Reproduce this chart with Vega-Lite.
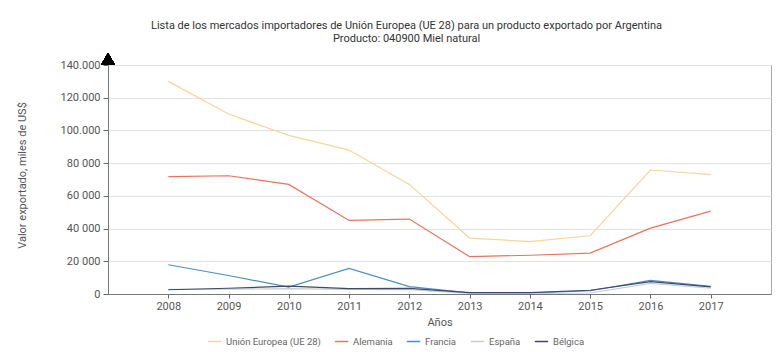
{
  "$schema": "https://vega.github.io/schema/vega-lite/v6.json",
  "width": 663,
  "height": 229,
  "autosize": {"type": "none"},
  "padding": {"left": 108, "top": 65, "right": 5, "bottom": 58},
  "background": "white",
  "title": {
    "text": ["Lista de los mercados importadores de Unión Europea (UE 28) para un producto exportado por Argentina", "Producto: 040900 Miel natural"],
    "anchor": "middle",
    "dx": -33,
    "fontSize": 11,
    "fontWeight": "normal",
    "font": "Roboto",
    "color": "#333",
    "lineHeight": 13,
    "offset": 9
  },
  "config": {
    "font": "Roboto",
    "view": {"stroke": "#aaa", "strokeWidth": 1},
    "axis": {"labelColor": "#555", "labelFontSize": 11, "titleColor": "#555", "titleFontSize": 11, "titleFontWeight": "normal", "domainColor": "#777", "tickColor": "#666", "gridColor": "#e2e2e2"}
  },
  "data": {
    "values": [
      {"year": 2008, "country": "Unión Europea (UE 28)", "value": 130000},
      {"year": 2009, "country": "Unión Europea (UE 28)", "value": 110000},
      {"year": 2010, "country": "Unión Europea (UE 28)", "value": 97000},
      {"year": 2011, "country": "Unión Europea (UE 28)", "value": 88000},
      {"year": 2012, "country": "Unión Europea (UE 28)", "value": 67000},
      {"year": 2013, "country": "Unión Europea (UE 28)", "value": 34200},
      {"year": 2014, "country": "Unión Europea (UE 28)", "value": 32000},
      {"year": 2015, "country": "Unión Europea (UE 28)", "value": 35600},
      {"year": 2016, "country": "Unión Europea (UE 28)", "value": 75800},
      {"year": 2017, "country": "Unión Europea (UE 28)", "value": 73000},
      {"year": 2008, "country": "Alemania", "value": 71700},
      {"year": 2009, "country": "Alemania", "value": 72300},
      {"year": 2010, "country": "Alemania", "value": 67000},
      {"year": 2011, "country": "Alemania", "value": 45000},
      {"year": 2012, "country": "Alemania", "value": 45800},
      {"year": 2013, "country": "Alemania", "value": 22800},
      {"year": 2014, "country": "Alemania", "value": 23700},
      {"year": 2015, "country": "Alemania", "value": 25000},
      {"year": 2016, "country": "Alemania", "value": 40300},
      {"year": 2017, "country": "Alemania", "value": 50700},
      {"year": 2008, "country": "Francia", "value": 17900},
      {"year": 2009, "country": "Francia", "value": 11300},
      {"year": 2010, "country": "Francia", "value": 4200},
      {"year": 2011, "country": "Francia", "value": 15700},
      {"year": 2012, "country": "Francia", "value": 4500},
      {"year": 2013, "country": "Francia", "value": 700},
      {"year": 2014, "country": "Francia", "value": 600},
      {"year": 2015, "country": "Francia", "value": 2000},
      {"year": 2016, "country": "Francia", "value": 8300},
      {"year": 2017, "country": "Francia", "value": 4700},
      {"year": 2008, "country": "España", "value": 2800},
      {"year": 2009, "country": "España", "value": 2900},
      {"year": 2010, "country": "España", "value": 3300},
      {"year": 2011, "country": "España", "value": 2800},
      {"year": 2012, "country": "España", "value": 2600},
      {"year": 2013, "country": "España", "value": 400},
      {"year": 2014, "country": "España", "value": 300},
      {"year": 2015, "country": "España", "value": 600},
      {"year": 2016, "country": "España", "value": 6500},
      {"year": 2017, "country": "España", "value": 3500},
      {"year": 2008, "country": "Bélgica", "value": 2600},
      {"year": 2009, "country": "Bélgica", "value": 3500},
      {"year": 2010, "country": "Bélgica", "value": 4800},
      {"year": 2011, "country": "Bélgica", "value": 3300},
      {"year": 2012, "country": "Bélgica", "value": 3400},
      {"year": 2013, "country": "Bélgica", "value": 900},
      {"year": 2014, "country": "Bélgica", "value": 900},
      {"year": 2015, "country": "Bélgica", "value": 2300},
      {"year": 2016, "country": "Bélgica", "value": 7600},
      {"year": 2017, "country": "Bélgica", "value": 4400}
    ]
  },
  "layer": [
    {
      "mark": {"type": "line", "strokeWidth": 1.2},
      "encoding": {
        "x": {
          "field": "year", "type": "quantitative",
          "scale": {"domain": [2007, 2018], "nice": false, "zero": false},
          "axis": {"values": [2008, 2009, 2010, 2011, 2012, 2013, 2014, 2015, 2016, 2017], "format": "d", "grid": false, "title": "Años", "tickSize": 4, "labelPadding": 2, "titleY": 28, "titleBaseline": "middle"}
        },
        "y": {
          "field": "value", "type": "quantitative",
          "scale": {"domain": [0, 140000], "nice": false},
          "axis": {"tickCount": 7, "labelOverlap": false, "labelExpr": "datum.value >= 100000 ? replace(format(datum.value, ','), ',', '.') : replace(format(datum.value, ','), ',', ' ')", "title": "Valor exportado, miles de US$", "tickSize": 5, "labelPadding": 3, "titleX": -86, "titleY": 110, "titleAngle": -90, "titleAlign": "center", "titleBaseline": "middle"}
        },
        "color": {
          "field": "country", "type": "nominal",
          "scale": {"domain": ["Unión Europea (UE 28)", "Alemania", "Francia", "España", "Bélgica"], "range": ["#f9d49c", "#e8745c", "#4d8fc2", "#cccccc", "#3b4a6e"]},
          "legend": {"title": null, "orient": "none", "direction": "horizontal", "legendX": 99, "legendY": 269, "symbolType": "stroke", "symbolSize": 180, "symbolStrokeWidth": 1.5, "labelFontSize": 9.5, "labelColor": "#666", "labelOffset": 4, "columnPadding": 10}
        }
      }
    },
    {
      "mark": {"type": "point", "shape": "triangle-up", "filled": true, "color": "black", "size": 190, "yOffset": -6, "opacity": 1},
      "encoding": {
        "x": {"datum": 2007, "type": "quantitative"},
        "y": {"datum": 140000, "type": "quantitative"}
      }
    }
  ]
}
